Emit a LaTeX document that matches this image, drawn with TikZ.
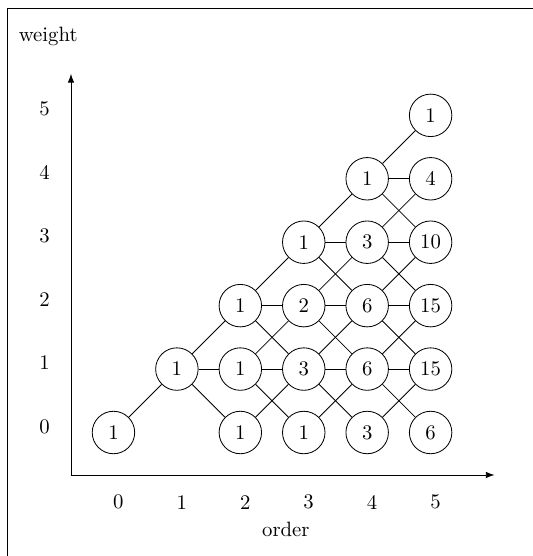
\documentclass[tikz,border=0pt]{standalone}
\usepackage{tikz}
\usetikzlibrary{positioning,arrows.meta}

\begin{document}
\begin{tikzpicture}[
  cnode/.style={
    circle, draw=black, line width=0.4pt,
    minimum size=7.2mm, inner sep=0pt
  },
  ticklabel/.style={anchor=center},
  axis/.style={-{Latex[length=1.5mm,width=1.1mm]}, line width=0.45pt}
]

% Page size and frame
\useasboundingbox (-1.203,-1.373) rectangle (7.830,8.050);
\draw[line width=0.45pt] (-1.068,-1.6) -- (-1.068,7.898) -- (8.1,7.898);

% Grid spacing and offset of the first node
\pgfmathsetmacro\h{1.075}
\pgfmathsetmacro\o{0.72}

% Axes
\coordinate (origin) at (0,0);
\coordinate (xend) at (7.18,0);
\coordinate (yend) at (0,6.80);
\draw[axis] (origin) -- (xend);
\draw[axis] (origin) -- (yend);

% Tick labels
\foreach \k in {0,...,5} {
  \node[ticklabel] (xl\k) at (0.803+\k*\h,-0.461) {\k};
  \node[ticklabel] (yl\k) at (-0.446,0.824+\k*\h) {\k};
}

% Axis titles
\node[anchor=base] (wlabel) at (-0.386,7.349) {weight};
\node[anchor=base] (olabel) at (3.642,-1.046) {order};

% Nodes: order/weight/count
\foreach \i/\j/\v in {0/0/1, 1/1/1,
    2/0/1, 2/1/1, 2/2/1,
    3/0/1, 3/1/3, 3/2/2, 3/3/1,
    4/0/3, 4/1/6, 4/2/6, 4/3/3, 4/4/1,
    5/0/6, 5/1/15, 5/2/15, 5/3/10, 5/4/4, 5/5/1} {
  \node[cnode] (n\i\j) at (\o+\i*\h, \o+\j*\h) {\v};
}

% Connectors
\draw (n00) -- (n11);
\foreach \i in {1,...,4} {
  \pgfmathtruncatemacro\k{\i+1}
  \foreach \j in {1,...,\i} {
    \pgfmathtruncatemacro\u{\j+1}
    \pgfmathtruncatemacro\d{\j-1}
    \draw (n\i\j) -- (n\k\u);
    \draw (n\i\j) -- (n\k\j);
    \draw (n\i\j) -- (n\k\d);
  }
}
% bottom row only goes up
\foreach \i in {2,3,4} {
  \pgfmathtruncatemacro\k{\i+1}
  \draw (n\i0) -- (n\k1);
}

\end{tikzpicture}
\end{document}
